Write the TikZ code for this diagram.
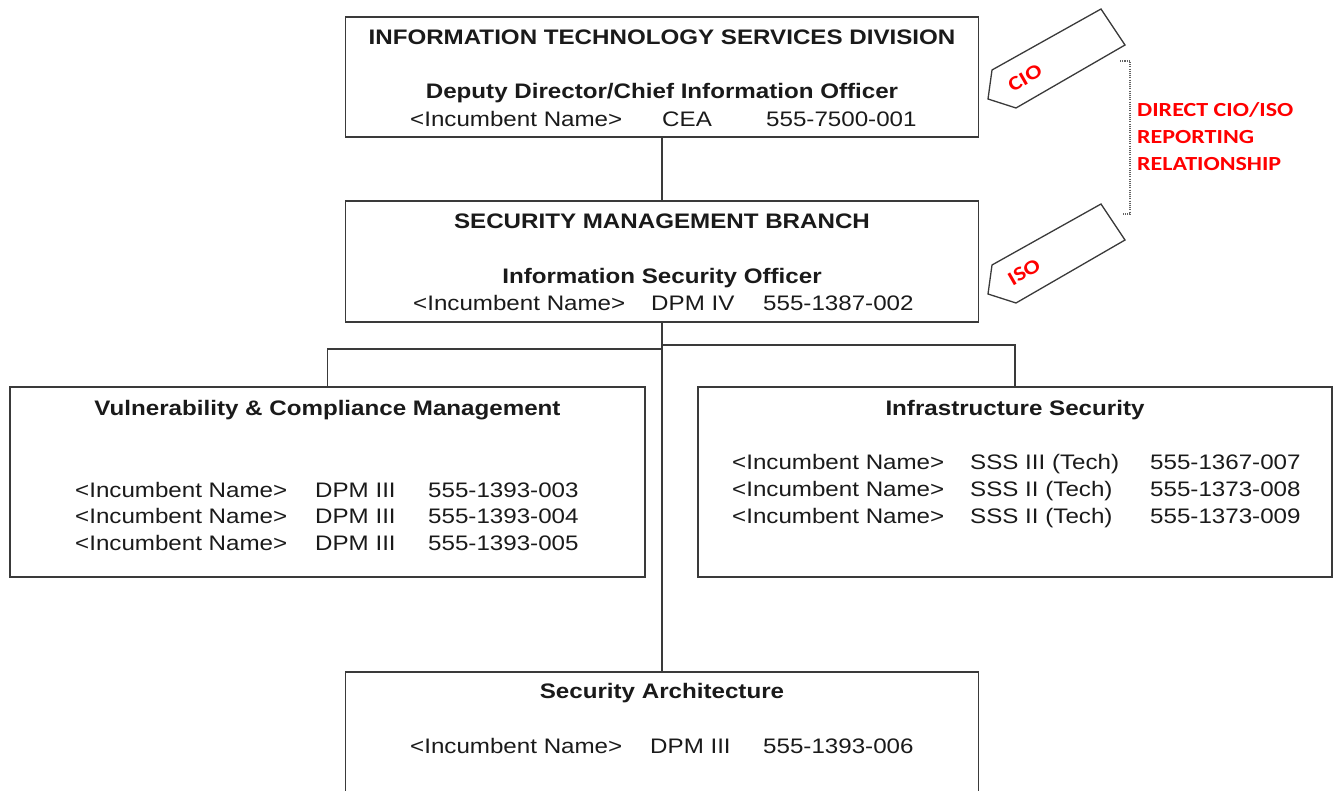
\documentclass[tikz,border=0pt]{standalone}
\usepackage{fontspec}
\setmainfont{Liberation Sans}[FakeStretch=1.15]
\newfontfamily\tagfont{Carlito}[FakeStretch=1.2]
\definecolor{edge}{HTML}{3A3A3A}
\definecolor{ink}{HTML}{1A1A1A}
\definecolor{alert}{HTML}{FF0000}
\tikzset{
  unitbox/.style={draw=edge, line width=1.4pt, inner sep=0pt},
  conn/.style={draw=edge, line width=1.3pt},
  ttl/.style={font=\bfseries\fontsize{21}{25}\selectfont, text=ink, anchor=base, inner sep=0pt},
  txt/.style={font=\fontsize{21}{25}\selectfont, text=ink, anchor=base west, inner sep=0pt},
  tagshape/.style={draw=edge, line width=1.3pt, line join=miter},
  tagtext/.style={font=\tagfont\bfseries\fontsize{20}{24}\selectfont, text=alert, rotate=30, inner sep=0pt},
  reltext/.style={font=\tagfont\bfseries\fontsize{20}{24}\selectfont, text=alert, anchor=base west, inner sep=0pt},
  bracket/.style={draw=edge!80, line width=1.2pt, dash pattern=on 1.1pt off 1.1pt},
}
\begin{document}
\begin{tikzpicture}[x=1pt, y=-1pt]
\useasboundingbox (0,0) rectangle (1333,791);
\clip (0,0) rectangle (1333,791);

% boxes
\node[unitbox, minimum width=633pt, minimum height=120pt] (itsd) at (662,77) {};
\node[unitbox, minimum width=633pt, minimum height=121pt] (smb) at (662,261.5) {};
\node[unitbox, minimum width=635pt, minimum height=190pt] (vcm) at (327.5,482) {};
\node[unitbox, minimum width=634pt, minimum height=190pt] (infra) at (1015,482) {};
\node[unitbox, minimum width=633pt, minimum height=140pt] (arch) at (662,742) {};

% connectors
\coordinate (jl) at (662,349);
\coordinate (jr) at (662,345);
\draw[conn] (itsd.south) -- (smb.north);
\draw[conn] (smb.south) -- (arch.north);
\draw[conn] (vcm.north) |- (jl);
\draw[conn] (infra.north) |- (jr);

% Information Technology Services Division
\node[ttl] (itsdT) at (662,45) {INFORMATION TECHNOLOGY SERVICES DIVISION};
\node[ttl] (itsdR) at (662,99) {Deputy Director/Chief Information Officer};
\node[txt] (itsdN) at (410,126.5) {<Incumbent Name>};
\node[txt] (itsdC) at (662,126.5) {CEA};
\node[txt] (itsdP) at (766,126.5) {555-7500-001};

% Security Management Branch
\node[ttl] (smbT) at (662,229) {SECURITY MANAGEMENT BRANCH};
\node[ttl] (smbR) at (662,283.5) {Information Security Officer};
\node[txt] (smbN) at (413,310.5) {<Incumbent Name>};
\node[txt] (smbC) at (651,310.5) {DPM IV};
\node[txt] (smbP) at (763,310.5) {555-1387-002};

% Vulnerability & Compliance Management
\node[ttl] (vcmT) at (327.5,415) {Vulnerability \& Compliance Management};
\node[txt] (vcmN1) at (75,497.5) {<Incumbent Name>};
\node[txt] (vcmC1) at (315,497.5) {DPM III};
\node[txt] (vcmP1) at (428,497.5) {555-1393-003};
\node[txt] (vcmN2) at (75,523.5) {<Incumbent Name>};
\node[txt] (vcmC2) at (315,523.5) {DPM III};
\node[txt] (vcmP2) at (428,523.5) {555-1393-004};
\node[txt] (vcmN3) at (75,550.5) {<Incumbent Name>};
\node[txt] (vcmC3) at (315,550.5) {DPM III};
\node[txt] (vcmP3) at (428,550.5) {555-1393-005};

% Infrastructure Security
\node[ttl] (infraT) at (1015,415) {Infrastructure Security};
\node[txt] (infraN1) at (732,469) {<Incumbent Name>};
\node[txt] (infraC1) at (970,469) {SSS III (Tech)};
\node[txt] (infraP1) at (1150,469) {555-1367-007};
\node[txt] (infraN2) at (732,496) {<Incumbent Name>};
\node[txt] (infraC2) at (970,496) {SSS II (Tech)};
\node[txt] (infraP2) at (1150,496) {555-1373-008};
\node[txt] (infraN3) at (732,523) {<Incumbent Name>};
\node[txt] (infraC3) at (970,523) {SSS II (Tech)};
\node[txt] (infraP3) at (1150,523) {555-1373-009};

% Security Architecture
\node[ttl] (archT) at (662,698) {Security Architecture};
\node[txt] (archN) at (410,753) {<Incumbent Name>};
\node[txt] (archC) at (650,753) {DPM III};
\node[txt] (archP) at (763,753) {555-1393-006};

% role tags
\draw[tagshape] (992,70) -- (988,99) -- (1016,108) -- (1125,45) -- (1101,9) -- cycle;
\node[tagtext] (cioTag) at (1025,78) {CIO};
\draw[tagshape] (992,265) -- (988,294) -- (1016,303) -- (1125,240) -- (1101,204) -- cycle;
\node[tagtext] (isoTag) at (1024,272) {ISO};

% reporting bracket
\coordinate (brTop) at (1120,61);
\coordinate (brBot) at (1123,214);
\draw[bracket] (brTop) -- (1130,61) -- (1130,214) -- (brBot);
\node[reltext] (rel1) at (1137,117) {DIRECT CIO/ISO};
\node[reltext] (rel2) at (1137,144) {REPORTING};
\node[reltext] (rel3) at (1137,171) {RELATIONSHIP};
\end{tikzpicture}
\end{document}
